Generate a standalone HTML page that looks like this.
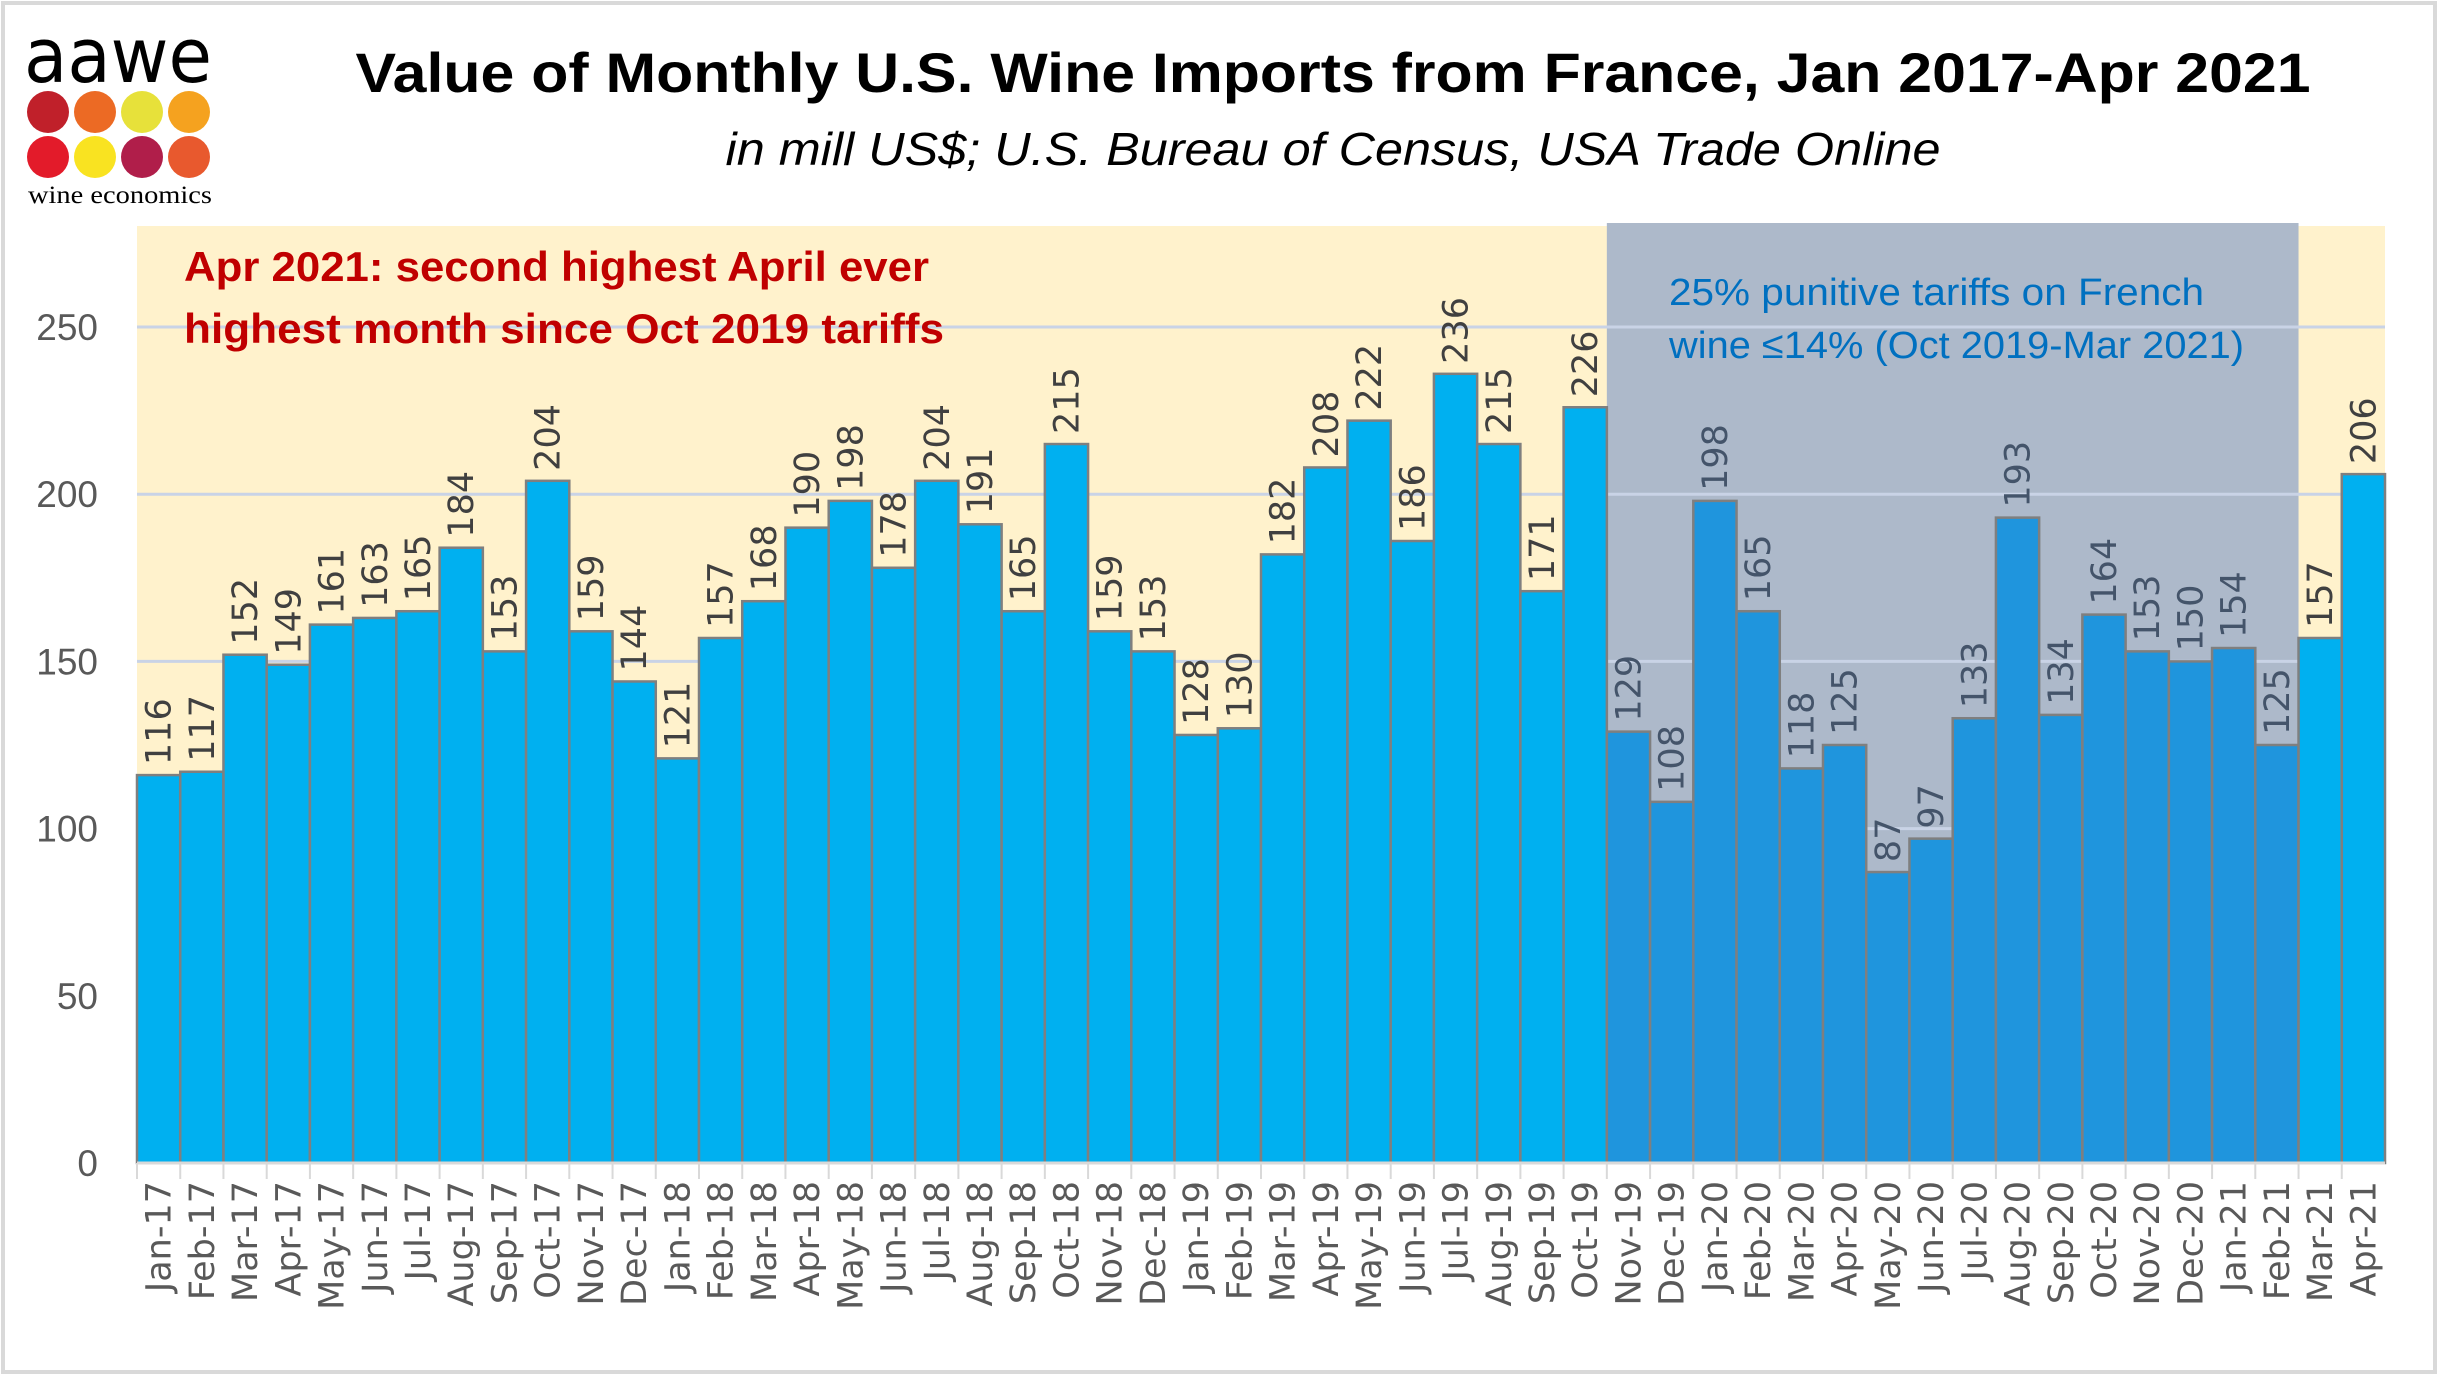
<!DOCTYPE html>
<html><head><meta charset="utf-8"><style>
html,body{margin:0;padding:0;background:#fff}
svg{display:block}
</style></head><body>
<svg id="chart" width="2438" height="1375" viewBox="0 0 2438 1375" xmlns="http://www.w3.org/2000/svg" font-family="Liberation Sans, DejaVu Sans, sans-serif">
<rect x="3" y="3" width="2432" height="1369" fill="#fff" stroke="#d9d9d9" stroke-width="4"/>
<g>
<text x="24" y="82" font-size="76" fill="#000" font-family="DejaVu Sans, sans-serif" textLength="188" lengthAdjust="spacingAndGlyphs">aawe</text>
<circle cx="48" cy="112" r="21" fill="#c0202a"/><circle cx="95" cy="112" r="21" fill="#ec6a24"/><circle cx="142" cy="112" r="21" fill="#e7e13a"/><circle cx="189" cy="112" r="21" fill="#f5a21f"/>
<circle cx="48" cy="157" r="21" fill="#e31b2a"/><circle cx="95" cy="157" r="21" fill="#f9e321"/><circle cx="142" cy="157" r="21" fill="#b01e4a"/><circle cx="189" cy="157" r="21" fill="#e8592e"/>
<text x="28" y="203" font-size="25" fill="#000" font-family="Liberation Serif, serif" textLength="184" lengthAdjust="spacingAndGlyphs">wine economics</text>
</g>
<text x="1333" y="92" text-anchor="middle" font-size="56" font-weight="bold" fill="#000" textLength="1955" lengthAdjust="spacingAndGlyphs">Value of Monthly U.S. Wine Imports from France, Jan 2017-Apr 2021</text>
<text x="1333" y="165" text-anchor="middle" font-size="46" font-style="italic" fill="#000" textLength="1215" lengthAdjust="spacingAndGlyphs">in mill US$; U.S. Bureau of Census, USA Trade Online</text>
<g id="plot"></g>
</svg>
<script>
const categories=["Jan-17","Feb-17","Mar-17","Apr-17","May-17","Jun-17","Jul-17","Aug-17","Sep-17","Oct-17","Nov-17","Dec-17","Jan-18","Feb-18","Mar-18","Apr-18","May-18","Jun-18","Jul-18","Aug-18","Sep-18","Oct-18","Nov-18","Dec-18","Jan-19","Feb-19","Mar-19","Apr-19","May-19","Jun-19","Jul-19","Aug-19","Sep-19","Oct-19","Nov-19","Dec-19","Jan-20","Feb-20","Mar-20","Apr-20","May-20","Jun-20","Jul-20","Aug-20","Sep-20","Oct-20","Nov-20","Dec-20","Jan-21","Feb-21","Mar-21","Apr-21"];
const values=[116,117,152,149,161,163,165,184,153,204,159,144,121,157,168,190,198,178,204,191,165,215,159,153,128,130,182,208,222,186,236,215,171,226,129,108,198,165,118,125,87,97,133,193,134,164,153,150,154,125,157,206];
const yTicks=[0,50,100,150,200,250];
const tariffStart=34, tariffEnd=49;

const NS="http://www.w3.org/2000/svg";
const g=document.getElementById('plot');
const X0=137,X1=2385,Y0=1163,Y250=327,TOP=226;
const bw=(X1-X0)/categories.length;
const x=i=>X0+i*bw;
const y=v=>Y0-(v/250)*(Y0-Y250);
function mk(tag,attrs,parent){const e=document.createElementNS(NS,tag);for(const k in attrs)e.setAttribute(k,attrs[k]);(parent||g).appendChild(e);return e;}

let e=mk('rect',{x:X0,y:TOP,width:X1-X0,height:Y0-TOP,fill:'#fff2cc'});


e=mk('rect',{x:x(tariffStart),y:TOP-3,width:x(tariffEnd+1)-x(tariffStart),height:Y0-TOP+3,fill:'#adb9ca'});



yTicks.forEach(t=>{
  if(t>0){
    const l=mk('line',{x1:X0,x2:X1,y1:y(t),y2:y(t),stroke:'#c9d3e6','stroke-width':3});
    
    
  }
  const tx=mk('text',{x:98,y:y(t)+13,'text-anchor':'end','font-size':37,fill:'#595959'});
  tx.textContent=t;
  
  
});

values.forEach((v,i)=>{
  const inT=i>=tariffStart&&i<=tariffEnd;
  const r=mk('rect',{x:x(i),y:y(v),width:bw,height:Y0-y(v),fill:inT?'#1f95dd':'#00b0f0',stroke:'#7f7f7f','stroke-width':2.5});
  
  
  const cx=x(i)+bw/2+12;
  const t=mk('text',{x:0,y:0,transform:`translate(${cx},${y(v)-10}) rotate(-90)`,'font-size':35,fill:inT?'#44546a':'#404040','font-family':'DejaVu Sans, sans-serif'});
  t.textContent=v;
  
  
  const tk=mk('line',{x1:x(i),x2:x(i),y1:Y0,y2:Y0+16,stroke:'#d9d9d9','stroke-width':2});
  
  
  const xl=mk('text',{x:0,y:0,transform:`translate(${cx},${Y0+18}) rotate(-90)`,'text-anchor':'end','font-size':35,fill:'#595959','font-family':'DejaVu Sans, sans-serif'});
  xl.textContent=categories[i];
  
  
});
e=mk('line',{x1:X0,x2:X1,y1:Y0,y2:Y0,stroke:'#d9d9d9','stroke-width':3});



function ann(txt,xx,yy,size,col,name,len,bold){
  const t=mk('text',{x:xx,y:yy,'font-size':size,fill:col,textLength:len,lengthAdjust:'spacingAndGlyphs','font-weight':bold?'bold':'normal'});
  t.textContent=txt;
  
  
}
ann('Apr 2021: second highest April ever',184,281,42,'#c00000','annotation-line-1',745,true);
ann('highest month since Oct 2019 tariffs',184,343,42,'#c00000','annotation-line-2',760,true);
ann('25% punitive tariffs on French',1669,305,38,'#0070c0','tariff-note-line-1',535,false);
ann('wine \u226414% (Oct 2019-Mar 2021)',1669,358,38,'#0070c0','tariff-note-line-2',575,false);
</script>
</body></html>
